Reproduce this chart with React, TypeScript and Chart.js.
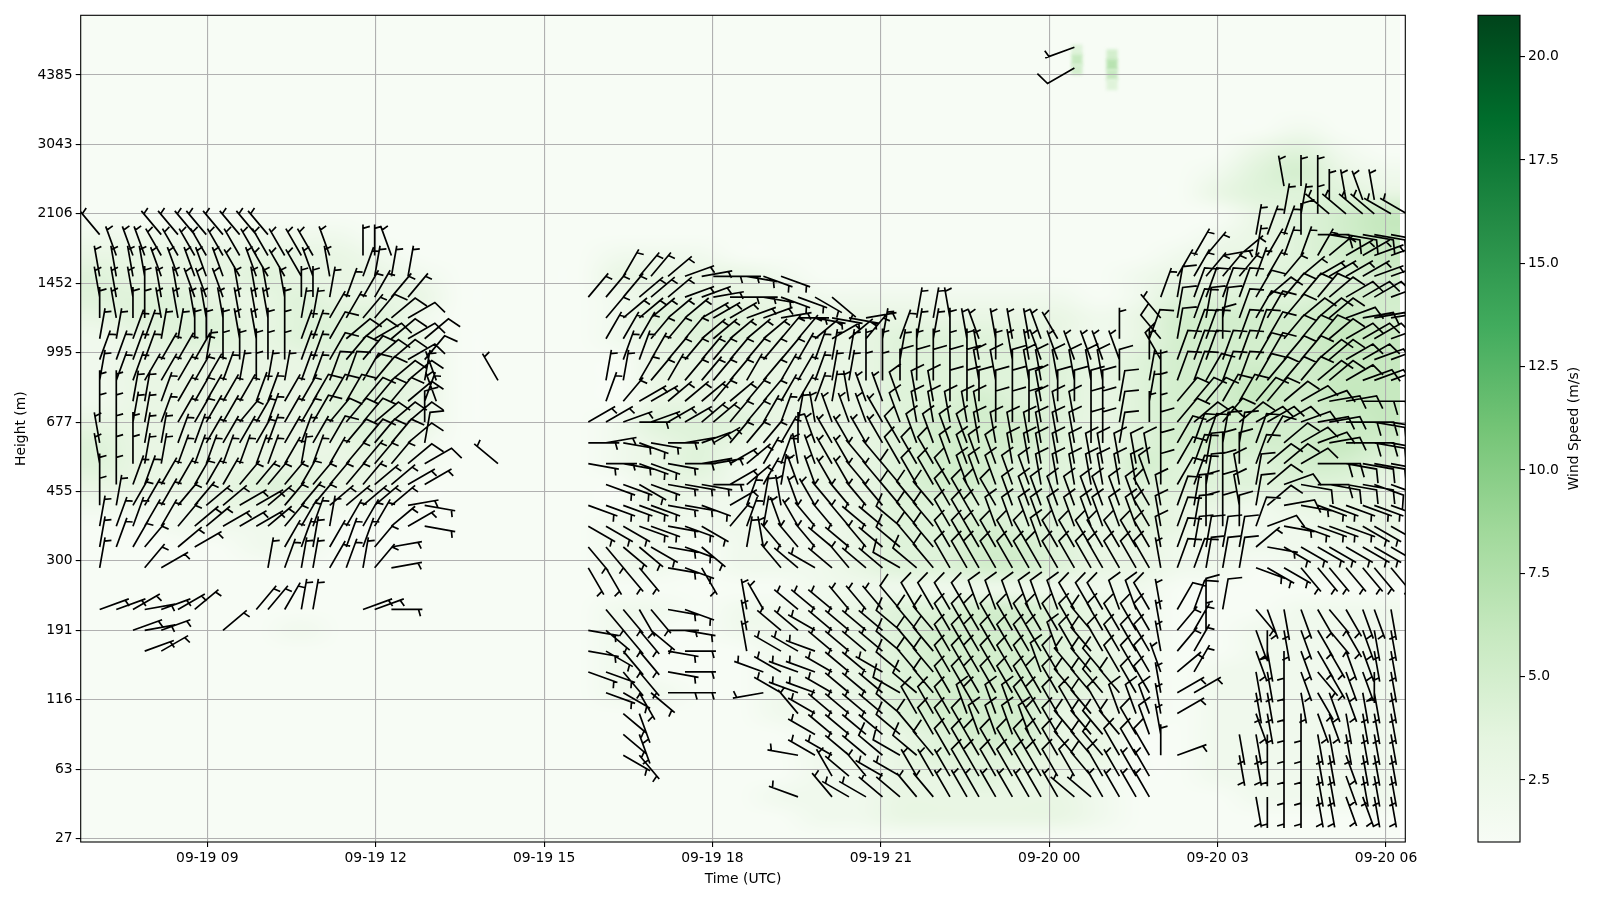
import React, { useEffect, useRef } from "react";
import { Chart, registerables } from "chart.js";
Chart.register(...registerables);

// ---------- data ----------
const xTickHours = [9, 12, 15, 18, 21, 24, 27, 30];
const xTickLabels = ["09-19 09", "09-19 12", "09-19 15", "09-19 18", "09-19 21", "09-20 00", "09-20 03", "09-20 06"];
const yTickGates = [0, 10, 20, 30, 40, 50, 60, 70, 80, 90, 100, 110];
const yTickLabels = ["27", "63", "116", "191", "300", "455", "677", "995", "1452", "2106", "3043", "4385"];
const colorbarTicks = [2.5, 5, 7.5, 10, 12.5, 15, 17.5, 20];
const speedRange = [1, 21];

// time of each profile, hours after 09-19 00:00
const profileHours = [
  7.083, 7.379, 7.676, 7.885, 8.18, 8.478, 8.776, 8.982, 9.28, 9.577, 9.873, 10.081, 10.379, 10.676, 10.883, 11.181,
  11.476, 11.774, 11.982, 12.28, 12.576, 12.873, 13.08, 13.377, 13.675, 13.882, 14.179, 14.477, 14.774, 14.981, 15.278,
  15.576, 15.788, 16.103, 16.411, 16.697, 16.905, 17.208, 17.51, 17.808, 18.015, 18.312, 18.61, 18.907, 19.221, 19.524,
  19.827, 20.13, 20.432, 20.735, 21.029, 21.341, 21.638, 21.934, 22.231, 22.534, 22.748, 23.046, 23.343, 23.639, 23.853,
  24.15, 24.448, 24.744, 24.952, 25.25, 25.546, 25.783, 25.986, 26.281, 26.579, 26.793, 27.09, 27.386, 27.683, 27.885,
  28.182, 28.485, 28.783, 28.989, 29.287, 29.585, 29.791, 30.088, 30.373,
];

// wind direction codes: a=-120deg ... z=130deg, 0=140deg ... 5=190deg, in 10deg steps; capital = 10 m/s barb
const directionCodes = "abcdefghijklmnopqrstuvwxyz012345";
// [height gate, first profile, codes]
const windRuns: [number, number, string][] = [
  [114, 62, "b"], [111, 62, "A"],
  [94, 76, "lmm"], [92, 79, "mlkl"],
  [90, 76, "nnm"], [90, 79, "hhhhgg"],
  [87, 0, "i"], [87, 4, "iiiiiiii"], [87, 74, "nooMVWWWWWV"],
  [84, 1, "kkkjjjjjjjjjjjk"], [84, 17, "mmk"], [84, 70, "pqurnpooprssttt"],
  [81, 0, "llllkkkkkjkjjjkl"], [81, 17, "onnn"], [81, 34, "pqqrtuvvwxx"], [81, 69, "ppqqqopqrssssttt"],
  [78, 0, "lllmllkkkllllmmnoppqq"], [78, 32, "qqqrrrttuvvwxxyz"], [78, 68, "oNOOOOPRQQQRSSSTT"],
  [75, 0, "mlmmllllllllmnnppqQRS"], [75, 33, "qrrrrrsssttuvwwwu"], [75, 52, "nnl"], [75, 68, "iNONNOPPQRRRTUUUU"],
  [72, 0, "nnoonnmmmllmmooPRRSRSR"], [72, 33, "pppqqqrrrrrqqrsrqn"], [72, 51, "onnmlklllkj"], [72, 65, "m"], [72, 67, "OINOOMOOPQQQRSSSTT"],
  [69, 0, "oooopppnmmmmmooPQQRRSQ"], [69, 34, "oopqqqqqqqqponnmm"], [69, 51, "nmmmmlmllkkkkkk"], [69, 67, "mJOOOOOPPQQRRSSTTT"],
  [66, 0, "noopppppon".concat("mnnooOOPQRRnk")], [66, 33, "nnpqpqqqqpqpponnmm"], [66, 51, "MMMMMLLMLLLLLLM"], [66, 67, "nmOOPOOPQQQRRSTTTU"],
  [63, 0, "mmnnoppppp".concat("ooppPPPQQQRok")], [63, 33, "oqssrrrqrqqpponlkk"], [63, 51, "KLLMMMMMMLMMMMN"], [63, 67, "nmQQQPPQQRSTUUVVVW"],
  [60, 0, "mmnnopppp".concat("qpoppPQQQRRRM")], [60, 32, "sstvtssrrqqponlkkkj"], [60, 51, "KLLLLLMMMLLLMMN"], [60, 67, "mmQRSQRSSSTUUVVWWW"],
  [57, 0, "lmmnnoopppp".concat("opopPQQQQRN")], [57, 32, "vuwxwvutsqqqpmkjjjj"], [57, 51, "JKKKKLLLLLLLMMN"], [57, 68, "MPOONNOPRSTUVVWWW"],
  [54, 0, "lmmnnooooooopnopqqqqRS"], [54, 32, "wvwxxwvuusrpolkjjii"], [54, 51, "JJJKKKKLLLLLLLLLL"], [54, 68, "MPONMMORRSVVWWWWX"], [54, 26, "h"],
  [66, 26, "j"],
  [51, 0, "mmooppppp".concat("qqqqpqqqqrrss")], [51, 33, "xxyxwwwvsrpnkkjjii"], [51, 51, "IJJJKKKKKLLLLLLLK"], [51, 68, "MPONMLNRTWVWWWXXX"],
  [48, 0, "mnpppqqrrss".concat("rqqqrrrrruw")], [48, 32, "xxxxxwwx"], [48, 41, "sonlkjiiii"], [48, 51, "IIIJJJJKKKKKKKKKJ"], [48, 68, "LONMMLNRUwxxxxxxx"],
  [45, 0, "nooppqrrsss".concat("rqponppprsw")], [45, 32, "yyyxxwxy"], [45, 41, "qonkjiiihh"], [45, 51, "HIIJJJKKKKKKKKKKJ"], [45, 68, "LONMMMOTwxxxxyyyy"],
  [42, 0, "nopq"], [42, 5, "rs"], [42, 12, "ponpooqu"], [42, 32, "00zzywxz"], [42, 42, "n"], [42, 43, "liiihhih"], [42, 51, "HIIJJJJJJKJJJJJJJ"], [42, 68, "LONNNNrwyyyyyyyyy"],
  [39, 0, "n"], [39, 3, "qs"], [39, 11, "nonnponqu"], [39, 32, "1100"], [39, 37, "wx1"], [39, 44, "ihghihh"], [39, 51, "GHIJJJJJJJJJJJJJJ"], [39, 68, "lOONNNxyy00000000"],
  [33, 0, "ttsutsr"], [33, 10, "qqpnn"], [33, 17, "ttv"], [33, 33, "0010wx"], [33, 42, "lj"], [33, 45, "hhhiii"], [33, 51, "IJJJJKKKKKKJJJKKJ"], [33, 68, "lPOMN"], [33, 74, "0232101223"],
  [30, 2, "tut"], [30, 8, "r"], [30, 32, "wz00zvw"], [30, 42, "l"], [30, 44, "hhghhhh"], [30, 51, "HIIJJJJJJJJJIJJJJ"], [30, 68, "lqpm"], [30, 74, "2432101233"],
  [27, 3, "ts"], [27, 32, "wy00"], [27, 37, "wv"], [27, 42, "l"], [27, 44, "ggfhhhh"], [27, 51, "HIIJJJJJJJKJIJJJJ"], [27, 68, "lqp"], [27, 74, "2342112233"],
  [24, 32, "xx00"], [24, 37, "wv"], [24, 43, "fgffghhg"], [24, 51, "HIIJJJJJJKJIIIJJJ"], [24, 68, "krp"], [24, 74, "3342012243"],
  [21, 33, "xy1z"], [21, 37, "vv"], [21, 43, "cgffghhh"], [21, 51, "GHIJJJJJJJJIIIIJJ"], [21, 68, "lss"], [21, 74, "3343122333"],
  [18, 34, "z2"], [18, 45, "ighhhh"], [18, 51, "HJJJKJKKJJJJIJKKK"], [18, 68, "ls"], [18, 74, "2344223333"],
  [15, 34, "z2"], [15, 46, "ghhhh"], [15, 51, "HIJJJKKKKJJIIIIJK"], [15, 68, "l"], [15, 73, "33444333333"],
  [12, 34, "y0"], [12, 45, "egghhH"], [12, 51, "GHIJJJJJJJJIIIJJJ"], [12, 68, "mt"], [12, 73, "33444332333"],
  [9, 47, "jhig"], [9, 51, "gjjjJJJJJJJJIJjjj"], [9, 76, "44332333"],
  [6, 45, "f"], [6, 47, "iggh"], [6, 51, "hiijjjjjjjjhhjjjj"], [6, 74, "3444332233"],
];

// smoothed speed field, m/s, one string per height gate below
const heatGates = [117, 114, 111, 108, 105, 102, 99, 96, 93, 90, 87, 84, 81, 78, 75, 72, 69, 66, 63, 60, 57, 54, 51, 48, 45, 42, 39, 36, 33, 30, 27, 24, 21, 18, 15, 12, 9, 6, 3, 0];
const heatHours = [7.088, 7.801, 8.514, 9.226, 9.939, 10.652, 11.364, 12.077, 12.79, 13.503, 14.215, 14.928, 15.641, 16.353, 17.066, 17.779, 18.491, 19.204, 19.917, 20.63, 21.342, 22.055, 22.768, 23.48, 24.193, 24.906, 25.618, 26.331, 27.044, 27.757, 28.469, 29.182, 29.895];
const heatRows = [
  "111111111111111111111111111111111",
  "111111111111111111111111111111111",
  "111111111111111111111111111111111",
  "111111111111111111111111111111111",
  "111111111111111111111111111111111",
  "111111111111111111111111111111211",
  "111111111111111111111111111113421",
  "111111111111111111111111111124532",
  "111111111111111111111111111134443",
  "111111111111111111111111111113456",
  "222222211111111111111111111123456",
  "333333321111122211111111111233456",
  "433343332111133332111111112334445",
  "444334333111123333222222212444455",
  "344434442111124443333333323555565",
  "234434443111123443334444323555566",
  "233333443111113333334444434555566",
  "233333443111113333334444434556566",
  "233333443111113333334454434556566",
  "333333443111124443334555434555556",
  "433333342111123432334555434555565",
  "433333332111123422334554435444554",
  "333344331111113322334554434444443",
  "222333221111113222234444434332333",
  "112222111111122222234454434322233",
  "111122111111122122234455433222222",
  "111111111111122122234455433221222",
  "111111111111111111222222222111111",
  "111111111111122122234455432111222",
  "111112111111121122234555432112222",
  "111111111111121112234555432112222",
  "111111111111121112234555442122222",
  "111111111111122112234555432122222",
  "111111111111111112224555332122222",
  "111111111111111111223455331122222",
  "111111111111111111223444331122222",
  "111111111111111111223343321122222",
  "111111111111111112223333321112222",
  "111111111111111111223333321111111",
  "111111111111111111111111111111111",
];
// two small high-altitude patches
const spotHours = [24.494, 24.494, 24.494, 25.118, 25.118, 25.118, 25.118];
const spotGates = [113.6, 112.2, 110.8, 112.9, 111.5, 110, 108.6];
const spotSpeeds = [4, 6, 5, 5, 7, 6, 4];

// Matplotlib "Greens"
const greens = ["#f7fcf5", "#e5f5e0", "#c7e9c0", "#a1d99b", "#74c476", "#41ab5d", "#238b45", "#006d2c", "#00441b"];

// ---------- tables built from the arrays ----------
const barbPoints = windRuns.flatMap(([gate, first, codes]) =>
  codes.split("").map((c, k) => ({
    x: profileHours[first + k],
    y: gate,
    dir: -120 + 10 * directionCodes.indexOf(c.toLowerCase()),
    full: c !== c.toLowerCase(),
  })).filter((p) => p.x !== undefined)
);
const heatPoints = heatRows.flatMap((row, r) =>
  row.split("").map((c, k) => ({ x: heatHours[k], y: heatGates[r], v: Number(c) }))
);
const spotPoints = spotHours.map((x, i) => ({ x, y: spotGates[i], v: spotSpeeds[i] }));

function hexToRgb(h: string) {
  return [parseInt(h.slice(1, 3), 16), parseInt(h.slice(3, 5), 16), parseInt(h.slice(5, 7), 16)];
}
function greenAt(speed: number) {
  const t = Math.max(0, Math.min(1, (speed - speedRange[0]) / (speedRange[1] - speedRange[0]))) * (greens.length - 1);
  const i = Math.min(greens.length - 2, Math.floor(t));
  const a = hexToRgb(greens[i]);
  const b = hexToRgb(greens[i + 1]);
  const f = t - i;
  return `rgb(${a.map((v, j) => Math.round(v + (b[j] - v) * f)).join(",")})`;
}

const FONT = "'DejaVu Sans'";
const BARB = 31;

const heatPlugin = {
  id: "heat",
  beforeDraw(chart: any) {
    const { ctx, scales, chartArea } = chart;
    const xs = scales.x;
    const ys = scales.y;
    const dt = heatHours[1] - heatHours[0];
    const left = xs.getPixelForValue(heatHours[0] - dt / 2);
    const right = xs.getPixelForValue(heatHours[heatHours.length - 1] + dt / 2);
    const top = ys.getPixelForValue(heatGates[0] + 1.5);
    const bottom = ys.getPixelForValue(heatGates[heatGates.length - 1] - 1.5);
    const off = document.createElement("canvas");
    off.width = heatHours.length;
    off.height = heatGates.length;
    const o = off.getContext("2d")!;
    chart.data.datasets[1].data.forEach((p: any) => {
      o.fillStyle = greenAt(p.v);
      o.fillRect(heatHours.indexOf(p.x), heatGates.indexOf(p.y), 1, 1);
    });
    ctx.save();
    ctx.beginPath();
    ctx.rect(chartArea.left, chartArea.top, chartArea.width, chartArea.height);
    ctx.clip();
    ctx.imageSmoothingEnabled = true;
    ctx.imageSmoothingQuality = "high";
    ctx.drawImage(off, left, top, right - left, bottom - top);
    ctx.filter = "blur(1.5px)";
    chart.data.datasets[2].data.forEach((p: any) => {
      ctx.fillStyle = greenAt(p.v);
      ctx.fillRect(xs.getPixelForValue(p.x) - 5.5, ys.getPixelForValue(p.y) - 5.5, 11, 11);
    });
    ctx.restore();
  },
};

const barbPlugin = {
  id: "barbs",
  afterDatasetsDraw(chart: any) {
    const { ctx, chartArea } = chart;
    const meta = chart.getDatasetMeta(0);
    ctx.save();
    ctx.beginPath();
    ctx.rect(chartArea.left, chartArea.top, chartArea.width, chartArea.height);
    ctx.clip();
    ctx.strokeStyle = "#000";
    ctx.lineWidth = 1.7;
    ctx.lineJoin = "miter";
    ctx.beginPath();
    meta.data.forEach((el: any, i: number) => {
      const p = chart.data.datasets[0].data[i];
      const a = (p.dir * Math.PI) / 180;
      const ux = Math.sin(a);
      const uy = -Math.cos(a);
      const rx = Math.cos(a);
      const ry = Math.sin(a);
      const tx = el.x + ux * BARB;
      const ty = el.y + uy * BARB;
      ctx.moveTo(el.x, el.y);
      ctx.lineTo(tx, ty);
      if (p.full) {
        ctx.lineTo(tx + rx * BARB * 0.44 + ux * BARB * 0.125, ty + ry * BARB * 0.44 + uy * BARB * 0.125);
      } else {
        const bx = tx - ux * BARB * 0.125;
        const by = ty - uy * BARB * 0.125;
        ctx.moveTo(bx, by);
        ctx.lineTo(bx + rx * BARB * 0.22 + ux * BARB * 0.0625, by + ry * BARB * 0.22 + uy * BARB * 0.0625);
      }
    });
    ctx.stroke();
    ctx.restore();
  },
  afterDraw(chart: any) {
    const { ctx, chartArea: c } = chart;
    ctx.save();
    ctx.strokeStyle = "#000";
    ctx.lineWidth = 1.1;
    ctx.strokeRect(c.left, c.top, c.width, c.height);
    ctx.restore();
  },
};

const colorbarPlugin = {
  id: "cbframe",
  afterDraw(chart: any) {
    const { ctx, chartArea: c } = chart;
    ctx.save();
    ctx.strokeStyle = "#000";
    ctx.lineWidth = 1.1;
    ctx.strokeRect(c.left, c.top, c.width, c.height);
    ctx.translate(chart.width - 26, (c.top + c.bottom) / 2);
    ctx.rotate(-Math.PI / 2);
    ctx.fillStyle = "#000";
    ctx.font = `13.89px ${FONT}`;
    ctx.textAlign = "center";
    ctx.textBaseline = "middle";
    ctx.fillText("Wind Speed (m/s)", 0, 0);
    ctx.restore();
  },
};

export default function App() {
  const mainRef = useRef<HTMLCanvasElement>(null);
  const barRef = useRef<HTMLCanvasElement>(null);

  useEffect(() => {
    const main = new Chart(mainRef.current!, {
      type: "scatter",
      data: {
        datasets: [
          { label: "Wind barbs", data: barbPoints as any, pointRadius: 0, pointHoverRadius: 0 },
          { label: "Wind speed", data: heatPoints as any, pointRadius: 0, pointHoverRadius: 0 },
          { label: "Wind speed patches", data: spotPoints as any, pointRadius: 0, pointHoverRadius: 0 },
        ],
      },
      plugins: [heatPlugin, barbPlugin],
      options: {
        responsive: false,
        animation: false,
        layout: { padding: { left: 0, right: 194.7, top: 15.3, bottom: 0 } },
        plugins: { legend: { display: false }, tooltip: { enabled: false } },
        scales: {
          x: {
            type: "linear",
            min: 6.745,
            max: 30.343,
            afterBuildTicks: (s: any) => { s.ticks = xTickHours.map((value) => ({ value })); },
            afterFit: (s: any) => { s.height = 58; },
            grid: { color: "#b0b0b0", lineWidth: 1.1, tickColor: "#000", tickLength: 5, drawTicks: true },
            border: { display: false },
            ticks: {
              autoSkip: false,
              maxRotation: 0,
              padding: 3,
              color: "#000",
              font: { family: FONT, size: 13.89 },
              callback: (v: any) => xTickLabels[xTickHours.indexOf(Number(v))] ?? "",
            },
            title: { display: true, text: "Time (UTC)", color: "#000", font: { family: FONT, size: 13.89 }, padding: { top: 4, bottom: 12 } },
          },
          y: {
            type: "linear",
            min: -0.5,
            max: 118.6,
            afterBuildTicks: (s: any) => { s.ticks = yTickGates.map((value) => ({ value })); },
            afterFit: (s: any) => { s.width = 80.7; },
            grid: { color: "#b0b0b0", lineWidth: 1.1, tickColor: "#000", tickLength: 5, drawTicks: true },
            border: { display: false },
            ticks: {
              autoSkip: false,
              padding: 3,
              color: "#000",
              font: { family: FONT, size: 13.89 },
              callback: (v: any) => yTickLabels[yTickGates.indexOf(Number(v))] ?? "",
            },
            title: { display: true, text: "Height (m)", color: "#000", font: { family: FONT, size: 13.89 }, padding: { top: 13, bottom: 4 } },
          },
        },
      },
    });

    const bar = new Chart(barRef.current!, {
      type: "bar",
      data: {
        labels: ["Wind Speed (m/s)"],
        datasets: [
          {
            data: [speedRange as any],
            barPercentage: 1,
            categoryPercentage: 1,
            backgroundColor: (ctx: any) => {
              const area = ctx.chart.chartArea;
              if (!area) return greens[4];
              const g = ctx.chart.ctx.createLinearGradient(0, area.bottom, 0, area.top);
              greens.forEach((c, i) => g.addColorStop(i / (greens.length - 1), c));
              return g;
            },
          },
        ],
      },
      plugins: [colorbarPlugin],
      options: {
        responsive: false,
        animation: false,
        layout: { padding: { left: 8, right: 0, top: 15.3, bottom: 58 } },
        plugins: { legend: { display: false }, tooltip: { enabled: false } },
        scales: {
          x: { display: false },
          y: {
            position: "right",
            type: "linear",
            min: speedRange[0],
            max: speedRange[1],
            afterBuildTicks: (s: any) => { s.ticks = colorbarTicks.map((value) => ({ value })); },
            afterFit: (s: any) => { s.width = 80; },
            grid: { drawOnChartArea: false, tickColor: "#000", tickLength: 5, lineWidth: 1.1 },
            border: { display: false },
            ticks: {
              autoSkip: false,
              padding: 3,
              color: "#000",
              font: { family: FONT, size: 13.89 },
              callback: (v: any) => Number(v).toFixed(1),
            },
          },
        },
      },
    });

    return () => {
      main.destroy();
      bar.destroy();
    };
  }, []);

  return (
    <div style={{ position: "absolute", left: 0, top: 0, width: 1600, height: 900, background: "#fff" }}>
      <canvas ref={mainRef} width={1600} height={900} style={{ position: "absolute", left: 0, top: 0 }} />
      <canvas ref={barRef} width={130} height={900} style={{ position: "absolute", left: 1470, top: 0 }} />
    </div>
  );
}
